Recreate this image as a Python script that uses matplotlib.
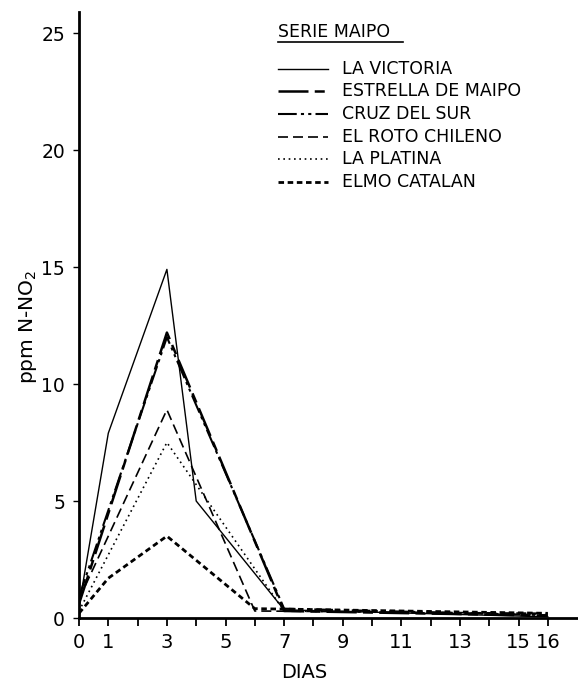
import matplotlib
matplotlib.use("Agg")
import matplotlib.pyplot as plt
from matplotlib.lines import Line2D

plt.rcParams['font.family'] = ['DejaVu Sans']

# ---- data ----
series_names = ["LA VICTORIA", "ESTRELLA DE MAIPO", "CRUZ DEL SUR",
                "EL ROTO CHILENO", "LA PLATINA", "ELMO CATALAN"]

victoria_days = [0, 1, 3, 4, 7, 16]
victoria_vals = [0.5, 7.9, 14.9, 5.0, 0.35, 0.05]

estrella_days = [0, 3, 7, 16]
estrella_vals = [0.6, 12.2, 0.3, 0.1]

cruz_days = [0, 3, 7, 16]
cruz_vals = [0.9, 12.0, 0.4, 0.12]

roto_days = [0, 3, 6, 16]
roto_vals = [0.8, 8.9, 0.3, 0.2]

platina_days = [0, 3, 7, 16]
platina_vals = [0.3, 7.5, 0.3, 0.15]

elmo_days = [0, 1, 3, 6, 16]
elmo_vals = [0.2, 1.7, 3.5, 0.4, 0.2]

xtick_positions = list(range(0, 17))
xtick_labels = ["0", "1", "", "3", "", "5", "", "7", "", "9", "", "11", "",
                "13", "", "15", "16"]
ytick_values = [0, 5, 10, 15, 20, 25]

# ---- styles ----
styles = [
    dict(color="black", lw=1.0, linestyle="-"),
    dict(color="black", lw=1.8, linestyle=(0, (12, 2.5, 4, 2.5))),
    dict(color="black", lw=1.5, linestyle=(0, (9, 2, 1.5, 2, 1.5, 2))),
    dict(color="black", lw=1.2, linestyle=(0, (6, 3))),
    dict(color="black", lw=1.2, linestyle=(0, (1, 2.2))),
    dict(color="black", lw=2.0, linestyle=(0, (2, 1.3))),
]

W, H = 578, 682
fig = plt.figure(figsize=(W / 100, H / 100), dpi=100)
ax_left, ax_bottom_px, ax_top_px = 79, 618, 12
ax = fig.add_axes([ax_left / W, 1 - ax_bottom_px / H, 1 - ax_left / W,
                   (ax_bottom_px - ax_top_px) / H])
ax_w = W - ax_left
ax_h = ax_bottom_px - ax_top_px

data = [(victoria_days, victoria_vals), (estrella_days, estrella_vals),
        (cruz_days, cruz_vals), (roto_days, roto_vals),
        (platina_days, platina_vals), (elmo_days, elmo_vals)]
for (d, v), st in zip(data, styles):
    ax.plot(d, v, **st)

ax.set_xlim(0, 17.03)
ax.set_ylim(0, 25.9)
for s in ["top", "right"]:
    ax.spines[s].set_visible(False)
ax.spines["left"].set_linewidth(2.0)
ax.spines["bottom"].set_linewidth(2.0)

ax.set_xticks(xtick_positions)
ax.set_xticklabels(xtick_labels)
ax.set_yticks(ytick_values)
ax.tick_params(axis="x", direction="out", length=6, width=1.3, pad=5,
               labelsize=14)
ax.tick_params(axis="y", direction="out", length=4, width=1.0, pad=6,
               labelsize=13.5)

ax.set_xlabel("DIAS", fontsize=14, va="center")
ax.xaxis.set_label_coords((304 - ax_left) / ax_w, (ax_bottom_px - 673) / ax_h)
ax.set_ylabel("ppm N-NO$_2$", fontsize=14.5, va="center")
ax.yaxis.set_label_coords((28 - ax_left) / ax_w, (ax_bottom_px - 327) / ax_h)


def fx(x):
    return x / W


def fy(y):
    return 1 - y / H


# ---- legend (drawn manually) ----
fig.text(fx(278), fy(32), "SERIE MAIPO", fontsize=12.5, va="center",
         ha="left")
fig.add_artist(Line2D([fx(278), fx(403)], [fy(42), fy(42)], color="black",
                      lw=1.2, transform=fig.transFigure))
row_y = [69, 91, 114, 137, 159, 182]
for name, st, yy in zip(series_names, styles, row_y):
    fig.add_artist(Line2D([fx(278), fx(328)], [fy(yy), fy(yy)],
                          transform=fig.transFigure, **st))
    fig.text(fx(342), fy(yy), name, fontsize=12.5, va="center", ha="left")

fig.savefig("out.png", dpi=100)
